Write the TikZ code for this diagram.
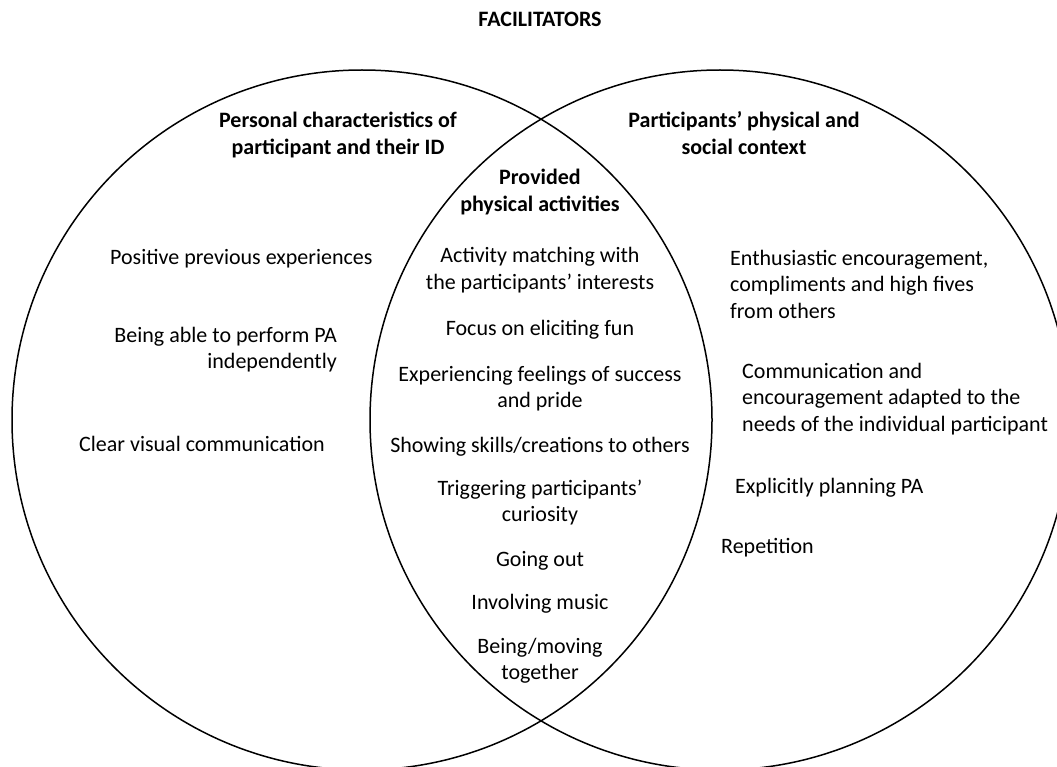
\documentclass[tikz,border=0pt]{standalone}
\usepackage{fontspec}
\setmainfont{Carlito}
\begin{document}
\begin{tikzpicture}[x=1pt,y=-1pt,
  txt/.style={font=\fontsize{22}{26.5}\selectfont, inner sep=0pt},
  hd/.style={txt, font=\fontsize{22}{26.5}\selectfont\bfseries},
  ring/.style={line width=1.5pt}]
\useasboundingbox (0,0) rectangle (1057,767);
\clip (0,0) rectangle (1057,767);

% the two overlapping sets
\draw[ring] (362,420) circle[radius=350];
\draw[ring] (720,420) circle[radius=350];

% title and set headings (multi-line nodes sit on their last baseline)
\node[hd, anchor=base] (title) at (540,27) {FACILITATORS};
\node[hd, anchor=base, align=center] (hleft) at (338,154.5)
  {Personal characteristics of\\participant and their ID};
\node[hd, anchor=base, align=center] (hright) at (744,154.5)
  {Participants’ physical and\\social context};
\node[hd, anchor=base, align=center] (hmid) at (540,211.5)
  {Provided\\physical activities};

% personal characteristics
\node[txt, anchor=base west] (l1) at (110,265) {Positive previous experiences};
\node[txt, anchor=base east, align=right] (l2) at (337,368.5)
  {Being able to perform PA\\independently};
\node[txt, anchor=base west] (l3) at (79,451) {Clear visual communication};

% provided physical activities
\node[txt, anchor=base, align=center] (m1) at (540,289.5)
  {Activity matching with\\the participants’ interests};
\node[txt, anchor=base] (m2) at (540,335) {Focus on eliciting fun};
\node[txt, anchor=base, align=center] (m3) at (540,407.5)
  {Experiencing feelings of success\\and pride};
\node[txt, anchor=base] (m4) at (540,452) {Showing skills/creations to others};
\node[txt, anchor=base, align=center] (m5) at (540,521.5)
  {Triggering participants’\\curiosity};
\node[txt, anchor=base] (m6) at (540,566) {Going out};
\node[txt, anchor=base] (m7) at (540,609) {Involving music};
\node[txt, anchor=base, align=center] (m8) at (540,679.5)
  {Being/moving\\together};

% physical and social context
\node[txt, anchor=base west, align=left] (r1) at (730,318)
  {Enthusiastic encouragement,\\compliments and high fives\\from others};
\node[txt, anchor=base west, align=left] (r2) at (742,431)
  {Communication and\\encouragement adapted to the\\needs of the individual participant};
\node[txt, anchor=base west] (r3) at (735,493) {Explicitly planning PA};
\node[txt, anchor=base west] (r4) at (721,553) {Repetition};
\end{tikzpicture}
\end{document}
